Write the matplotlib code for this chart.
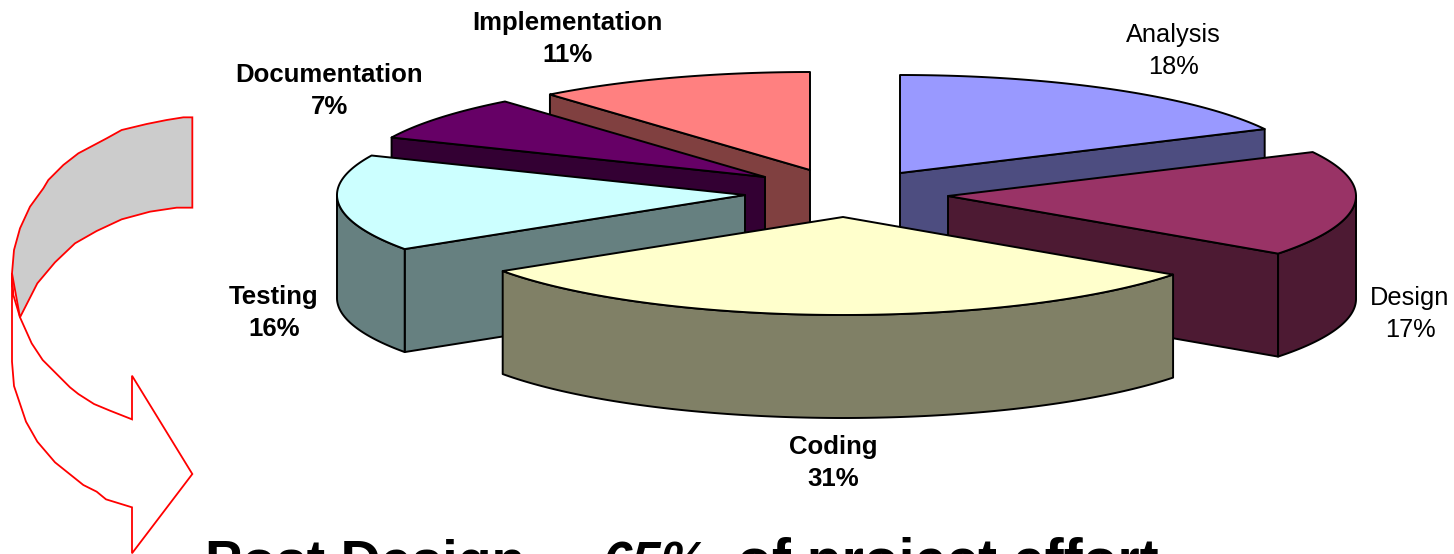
import numpy as np
import matplotlib
matplotlib.use("Agg")
import matplotlib.pyplot as plt
from matplotlib.patches import Polygon

plt.rcParams['font.family'] = ['Liberation Sans', 'DejaVu Sans']

# Data
categories = ["Analysis", "Design", "Coding", "Testing", "Documentation", "Implementation"]
values = [17.6, 17.4, 30.7, 15.9, 7.4, 11.0]
top_colors = ["#9999FF", "#993366", "#FFFFCC", "#CCFFFF", "#660066", "#FF8080"]
side_colors = ["#4D4D80", "#4D1A33", "#808066", "#668080", "#330033", "#804040"]
bold_labels = [False, False, True, True, True, True]

# Layout (pixels): exploded slice apex for each category
apex_x = [900, 948, 843, 745, 765, 810]
apex_y = [173, 196, 217, 195, 177, 170]
label_x = [1173, 1410, 833, 274, 329, 567]
label_y = [51, 314, 463, 313, 91, 39]
draw_order = [5, 4, 3, 0, 1, 2]
RX, RY, DEPTH = 408, 98, 103
LW = 1.4

# Curved arrow annotation, outline traced in pixels
arrow_gray = [(577,52),(550,52),(500,60),(440,72),(365,90),(320,115),(235,160),(190,195),(145,240),
              (130,265),(90,320),(60,385),(42,450),(36,520),(60,652),(112,550),(165,487),(225,430),
              (290,393),(365,358),(450,335),(530,323),(577,323)]
arrow_white = [(36,520),(36,785),(42,858),(78,965),(112,1025),(165,1087),(250,1155),(290,1175),
               (318,1198),(396,1222),(396,1360),(577,1122),(396,827),(396,958),(330,932),(282,912),
               (235,882),(210,862),(128,780),(95,730),(60,652),(40,585)]

fig = plt.figure(figsize=(14.54, 5.54), dpi=100, facecolor="white")
ax = fig.add_axes([0, 0, 1, 1])
ax.set_xlim(0, 1454)
ax.set_ylim(554, 0)
ax.axis("off")


def rim(cx, cy, a0, a1, dy=0.0):
    n = max(2, int(abs(a1 - a0) * 2) + 2)
    t = np.radians(np.linspace(a0, a1, n))
    return np.column_stack([cx + RX * np.sin(t), cy - RY * np.cos(t) + dy])


def face(pts, color, z):
    ax.add_patch(Polygon(pts, closed=True, facecolor=color, edgecolor="black",
                         linewidth=LW, joinstyle="round", zorder=z))


edges = np.concatenate([[0], np.cumsum(values)]) / np.sum(values) * 360.0

for rank, i in enumerate(draw_order):
    a0, a1 = edges[i], edges[i + 1]
    cx, cy = apex_x[i], apex_y[i]
    z = 2 + rank
    top_apex = np.array([cx, cy])
    low_apex = np.array([cx, cy + DEPTH])
    # radial wall facing the viewer
    for ang, visible in ((a0, np.sin(np.radians(a0)) < -1e-6), (a1, np.sin(np.radians(a1)) > 1e-6)):
        if visible:
            p = rim(cx, cy, ang, ang)[0]
            face([top_apex, p, p + [0, DEPTH], low_apex], side_colors[i], z)
    # outer curved wall on the front half
    b0, b1 = max(a0, 90), min(a1, 270)
    if b1 > b0:
        face(np.vstack([rim(cx, cy, b0, b1), rim(cx, cy, b1, b0, DEPTH)]), side_colors[i], z)
    # top face
    face(np.vstack([top_apex, rim(cx, cy, a0, a1)]), top_colors[i], z)

    pct = int(round(values[i] / np.sum(values) * 100))
    ax.text(label_x[i], label_y[i], f"{categories[i]}\n{pct}%", ha="center", va="center",
            fontsize=18.5 if bold_labels[i] else 18.3,
            fontweight="bold" if bold_labels[i] else "normal",
            linespacing=1.45, color="black", zorder=20)

for pts, fc in ((arrow_white, "white"), (arrow_gray, "#CCCCCC")):
    ax.add_patch(Polygon([(x / 3, 100 + y / 3) for x, y in pts], closed=True, facecolor=fc,
                         edgecolor="red", linewidth=1.3, zorder=10))

ax.text(205, 579, "Post Design –", fontsize=40, fontweight="bold", va="baseline", ha="left", zorder=20)
ax.text(603, 579, "65%", fontsize=38, fontweight="bold", fontstyle="italic", va="baseline", ha="left", zorder=20)
ax.text(737, 579, "of project effort", fontsize=41, fontweight="bold", va="baseline", ha="left", zorder=20)

fig.savefig("out.png", dpi=100, facecolor="white")
